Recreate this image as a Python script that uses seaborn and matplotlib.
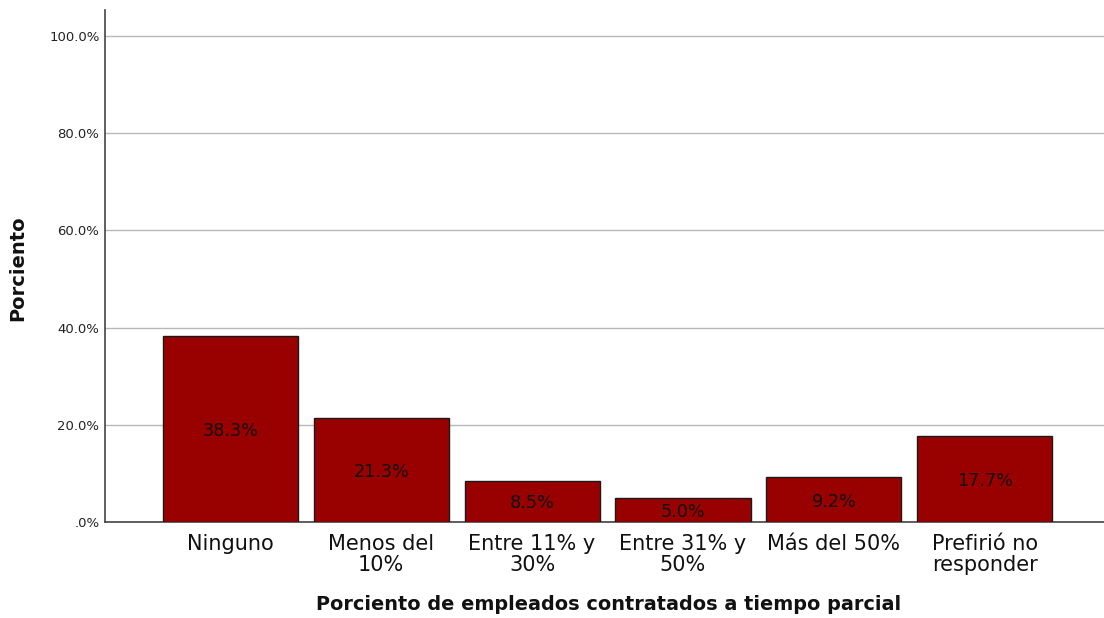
import matplotlib
matplotlib.use("Agg")
import matplotlib.pyplot as plt
import seaborn as sns
import pandas as pd

categories = ["Ninguno", "Menos del\n10%", "Entre 11% y\n30%", "Entre 31% y\n50%",
              "Más del 50%", "Prefirió no\nresponder"]
percent = [38.3, 21.3, 8.5, 5.0, 9.2, 17.7]
y_ticks = [0, 20, 40, 60, 80, 100]
y_tick_labels = [".0%", "20.0%", "40.0%", "60.0%", "80.0%", "100.0%"]

df = pd.DataFrame({"categoria": categories, "porciento": percent})

sns.set_theme(style="white")
plt.rcParams["font.family"] = ["DejaVu Sans"]

fig = plt.figure(figsize=(11.04, 6.18), dpi=100)
ax = fig.add_axes([105 / 1104, 1 - 522 / 618, (1104 - 105) / 1104, (522 - 10) / 618])

sns.barplot(data=df, x="categoria", y="porciento", color="#990000",
            edgecolor="#1a1a1a", linewidth=1.0, width=0.895, saturation=1, ax=ax, zorder=3)

for i, v in enumerate(percent):
    ax.text(i, v / 2, f"{v:.1f}%", ha="center", va="center_baseline", fontsize=12.7,
            color="#111111", zorder=4)

ax.set_ylim(0, 105.3)
ax.set_xlim(-0.83, 5.79)
ax.set_yticks(y_ticks)
ax.set_yticklabels(y_tick_labels, fontsize=9.5, color="#222222")
ax.tick_params(axis="x", labelsize=15, colors="#111111", length=0, pad=9)
for lbl in ax.get_xticklabels():
    lbl.set_linespacing(1.05)
ax.tick_params(axis="y", length=0, pad=4)
ax.yaxis.grid(True, color="#b8b8b8", linewidth=1.0, zorder=0)
ax.set_axisbelow(True)

for side in ("top", "right"):
    ax.spines[side].set_visible(False)
for side in ("left", "bottom"):
    ax.spines[side].set_color("#444444")
    ax.spines[side].set_linewidth(1.2)

ax.set_xlabel("")
ax.set_ylabel("")
fig.text(609 / 1104, 1 - 605 / 618, "Porciento de empleados contratados a tiempo parcial",
         ha="center", va="center", fontsize=13.9, fontweight="bold", color="#111111")
fig.text(18 / 1104, 1 - 268 / 618, "Porciento", rotation=90, ha="center", va="center",
         fontsize=14, fontweight="bold", color="#111111")

fig.savefig("out.png", dpi=100)
